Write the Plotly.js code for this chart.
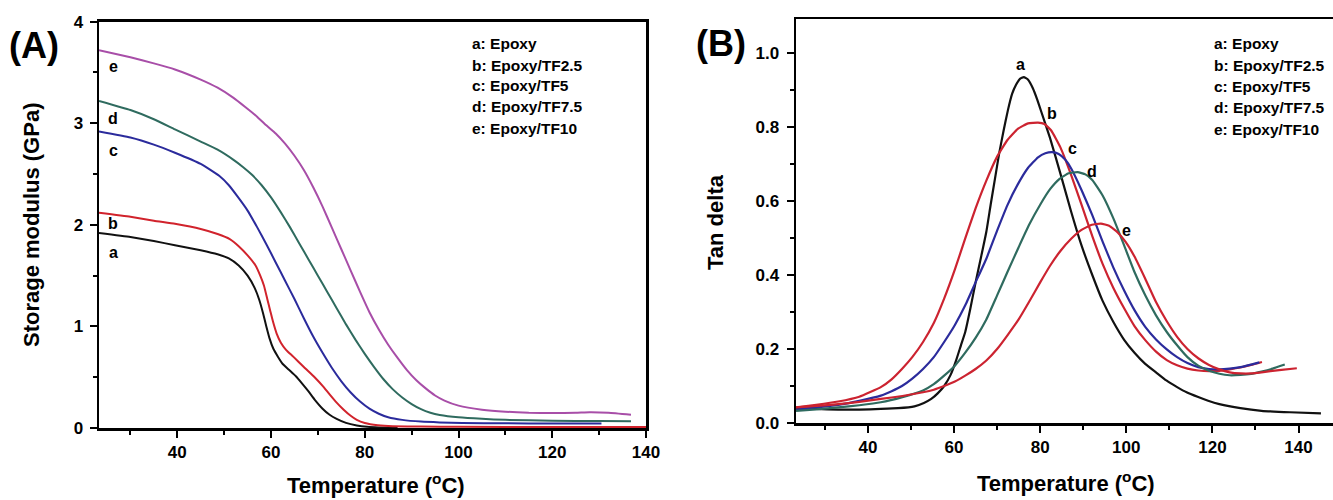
<!DOCTYPE html>
<html>
<head>
<meta charset="utf-8">
<script src="https://cdn.plot.ly/plotly-3.0.1.min.js"></script>
<style>
html,body{margin:0;padding:0;background:#fff}
#chart{width:1333px;height:500px}
#chart g.xtick text, #chart g.ytick text, #chart g.x2tick text, #chart g.y2tick text {font-weight:700 !important;}
</style>
</head>
<body>
<div id="chart"></div>
<script>
// ---------- Panel A: Storage modulus (GPa) vs Temperature (°C) ----------
const seriesNames = ["a: Epoxy", "b: Epoxy/TF2.5", "c: Epoxy/TF5", "d: Epoxy/TF7.5", "e: Epoxy/TF10"];
const curveLetters = ["a", "b", "c", "d", "e"];

// tick labels
const xTicks = [40, 60, 80, 100, 120, 140];
const xTickLabels = ["40", "60", "80", "100", "120", "140"];
const yTicksA = [0, 1, 2, 3, 4];
const yTickLabelsA = ["0", "1", "2", "3", "4"];
const yTicksB = [0, 0.2, 0.4, 0.6, 0.8, 1.0];
const yTickLabelsB = ["0.0", "0.2", "0.4", "0.6", "0.8", "1.0"];

const tA_a = [23.3, 30, 35, 39.5, 45, 48.6, 51, 53.1, 55, 56.5, 57.5, 58.3, 59, 59.7, 60.5, 61.5, 62.5, 63.9, 65.3, 66.6, 68, 69.3, 71, 72.5, 74, 76, 78.3, 80.5, 83, 87];
const sA_a = [1.92, 1.88, 1.84, 1.80, 1.75, 1.71, 1.67, 1.60, 1.50, 1.38, 1.26, 1.13, 1.00, 0.88, 0.78, 0.70, 0.63, 0.57, 0.51, 0.44, 0.36, 0.28, 0.19, 0.13, 0.09, 0.05, 0.025, 0.012, 0.006, 0.003];

const tA_b = [23.3, 30, 35, 39.5, 45, 48.6, 51.2, 53.1, 55, 56.7, 57.7, 58.5, 59.2, 59.8, 60.4, 61.2, 62.1, 63.2, 64.8, 67, 69.3, 71.1, 72.5, 73.8, 75.5, 77, 78.3, 80, 82.8, 86, 92, 100, 120, 140];
const sA_b = [2.12, 2.08, 2.04, 2.01, 1.96, 1.91, 1.86, 1.79, 1.70, 1.60, 1.50, 1.40, 1.27, 1.16, 1.05, 0.93, 0.84, 0.77, 0.70, 0.60, 0.50, 0.41, 0.33, 0.26, 0.18, 0.12, 0.08, 0.05, 0.028, 0.018, 0.014, 0.012, 0.01, 0.01];

const tA_c = [23.3, 30, 35, 39.5, 45, 49, 51, 53, 55, 57, 59, 61, 63, 65, 67, 69, 71, 73, 75, 77, 79, 81, 83, 85, 88, 92, 96, 100.8, 110, 120, 130.5];
const sA_c = [2.92, 2.86, 2.79, 2.71, 2.60, 2.48, 2.39, 2.27, 2.14, 1.98, 1.81, 1.63, 1.45, 1.27, 1.08, 0.90, 0.74, 0.59, 0.46, 0.35, 0.26, 0.19, 0.14, 0.105, 0.08, 0.063, 0.055, 0.05, 0.046, 0.045, 0.045];

const tA_d = [23.3, 30, 35, 39.5, 45, 48.6, 52, 54, 56, 58, 60, 62, 64, 66, 68, 70, 72, 74, 76, 78, 80, 82, 84, 86, 88, 90, 92, 94, 96, 100, 105, 110, 120, 130, 136.8];
const sA_d = [3.22, 3.13, 3.04, 2.94, 2.82, 2.74, 2.64, 2.57, 2.49, 2.39, 2.27, 2.13, 1.98, 1.82, 1.66, 1.50, 1.34, 1.18, 1.02, 0.87, 0.73, 0.60, 0.48, 0.38, 0.30, 0.235, 0.185, 0.15, 0.128, 0.105, 0.09, 0.08, 0.072, 0.068, 0.066];

const tA_e = [23.3, 30, 35, 39.5, 45, 48.6, 52, 54.5, 56.9, 59, 61, 63, 65, 67, 69, 71, 73, 75, 77, 79, 81, 83, 85, 87, 89, 91, 93, 95, 97, 100, 105, 110, 115, 120, 125, 128, 132, 136.8];
const sA_e = [3.72, 3.65, 3.59, 3.53, 3.43, 3.35, 3.25, 3.16, 3.07, 2.98, 2.90, 2.80, 2.68, 2.54, 2.37, 2.18, 1.97, 1.76, 1.55, 1.34, 1.14, 0.97, 0.82, 0.69, 0.57, 0.47, 0.39, 0.32, 0.27, 0.22, 0.18, 0.16, 0.15, 0.147, 0.15, 0.155, 0.15, 0.13];

// ---------- Panel B: Tan delta vs Temperature (°C) ----------
const tB_a = [23.3, 28, 33.1, 38, 43, 47, 50.8, 53, 54.7, 56.2, 57.7, 59.2, 60.5, 61.6, 62.6, 63.8, 65, 66.3, 67.5, 68.5, 69.5, 70.5, 71.5, 72.5, 73.5, 74.4, 75.3, 76.2, 77.2, 78.3, 79.3, 80.3, 82.3, 84.8, 87.2, 89.6, 92.1, 94.5, 97, 99.5, 101.9, 104.4, 106.9, 109.3, 111.8, 114, 116.7, 119, 121.6, 126.5, 131.4, 138, 145.2];
const tanB_a = [0.040, 0.038, 0.036, 0.036, 0.038, 0.040, 0.045, 0.054, 0.065, 0.08, 0.10, 0.13, 0.17, 0.21, 0.246, 0.31, 0.38, 0.45, 0.517, 0.59, 0.66, 0.73, 0.79, 0.845, 0.89, 0.914, 0.93, 0.935, 0.928, 0.905, 0.875, 0.84, 0.77, 0.67, 0.571, 0.48, 0.40, 0.33, 0.273, 0.225, 0.19, 0.16, 0.137, 0.115, 0.097, 0.083, 0.07, 0.06, 0.051, 0.04, 0.033, 0.029, 0.026];

const tB_b = [23.3, 28, 33.1, 38, 43, 45.5, 47.9, 50.3, 52.8, 55.3, 57.7, 60.2, 62.6, 65, 67.5, 70, 72.4, 74.8, 77.2, 79.5, 81, 82.6, 84.7, 87.2, 89.6, 92.1, 94.5, 97, 99.5, 101.9, 104.4, 106.9, 109.4, 111.8, 114.2, 116.7, 119.2, 121.6, 124, 126.5, 129, 131.5];
const tanB_b = [0.042, 0.049, 0.058, 0.071, 0.097, 0.118, 0.146, 0.178, 0.219, 0.27, 0.336, 0.415, 0.499, 0.58, 0.655, 0.72, 0.765, 0.795, 0.81, 0.812, 0.808, 0.79, 0.745, 0.67, 0.59, 0.505, 0.43, 0.365, 0.31, 0.262, 0.224, 0.193, 0.17, 0.156, 0.147, 0.142, 0.14, 0.141, 0.145, 0.15, 0.157, 0.165];

const tB_c = [23.3, 28, 33.1, 38, 43, 45.5, 47.9, 50.3, 52.8, 55.3, 57.7, 60.2, 62.6, 65, 67.5, 70, 72.4, 74.8, 77.2, 79.5, 81.2, 82.8, 84.3, 85.8, 87.2, 89.6, 92.1, 94.5, 97, 99.5, 101.9, 104.4, 106.9, 109.4, 111.8, 114.2, 116.7, 119.2, 121.6, 124, 126.5, 128.7, 130.9];
const tanB_c = [0.036, 0.042, 0.049, 0.06, 0.074, 0.086, 0.10, 0.12, 0.146, 0.178, 0.219, 0.265, 0.318, 0.38, 0.444, 0.52, 0.589, 0.645, 0.69, 0.718, 0.729, 0.732, 0.727, 0.712, 0.688, 0.63, 0.562, 0.49, 0.42, 0.358, 0.305, 0.26, 0.226, 0.199, 0.178, 0.162, 0.151, 0.146, 0.145, 0.147, 0.151, 0.157, 0.164];

const tB_d = [23.3, 28, 33.1, 38, 43, 48, 52.8, 55.3, 57.7, 60.2, 62.6, 65, 67.5, 70, 72.4, 75, 77.4, 80, 82.3, 84.5, 86.6, 88.7, 90.5, 92.1, 94.5, 97, 99.5, 101.9, 104.4, 106.9, 109.4, 111.8, 114.2, 116.7, 119.2, 121.6, 124, 126.5, 129, 131.4, 134, 136.8];
const tanB_d = [0.033, 0.037, 0.042, 0.048, 0.056, 0.07, 0.088, 0.105, 0.128, 0.155, 0.19, 0.23, 0.28, 0.345, 0.408, 0.475, 0.535, 0.59, 0.632, 0.66, 0.675, 0.678, 0.672, 0.657, 0.615, 0.553, 0.48, 0.408, 0.345, 0.291, 0.246, 0.21, 0.178, 0.155, 0.141, 0.133, 0.129, 0.13, 0.133, 0.139, 0.147, 0.158];

const tB_e = [23.3, 28, 33.1, 38, 43, 48, 52.8, 55.3, 57.7, 60.2, 62.6, 65, 67.5, 70, 72.4, 75, 77.4, 80, 82.3, 84.7, 87.2, 89.6, 92, 94.1, 96, 98, 99.8, 101.9, 104.4, 106.9, 109.4, 111.8, 114.2, 116.7, 119.2, 121.6, 124, 126.5, 129, 131.4, 135.5, 139.6];
const tanB_e = [0.042, 0.046, 0.051, 0.057, 0.065, 0.073, 0.083, 0.09, 0.10, 0.112, 0.128, 0.146, 0.169, 0.2, 0.237, 0.28, 0.327, 0.38, 0.425, 0.465, 0.498, 0.522, 0.536, 0.539, 0.533, 0.515, 0.49, 0.45, 0.39, 0.327, 0.275, 0.233, 0.2, 0.175, 0.157, 0.145, 0.137, 0.134, 0.134, 0.137, 0.143, 0.148];

// Curve-label anchor positions (data units) for letter tags
const labelA_x = [26.3, 26.3, 26.3, 26.3, 26.3];
const labelA_y = [1.73, 2.01, 2.73, 3.05, 3.56];
const labelB_x = [75.4, 82.8, 87.4, 92.1, 100.0];
const labelB_y = [0.968, 0.837, 0.741, 0.679, 0.519];

// ---------- styling ----------
const colA = ["#111111", "#d1232c", "#2b2b9c", "#2f6b5f", "#a84ea8"];
const colB = ["#111111", "#cc2330", "#2b2b9c", "#2f6b5f", "#cc2330"];
const FONT = "Liberation Sans, Arial, sans-serif";
const bold = arr => arr.map(s => "<b>" + s + "</b>");

const dataA = [[tA_a, sA_a], [tA_b, sA_b], [tA_c, sA_c], [tA_d, sA_d], [tA_e, sA_e]];
const dataB = [[tB_a, tanB_a], [tB_b, tanB_b], [tB_c, tanB_c], [tB_d, tanB_d], [tB_e, tanB_e]];

const traces = [];
dataA.forEach((d, i) => traces.push({
  x: d[0], y: d[1], type: "scatter", mode: "lines", name: seriesNames[i],
  line: {color: colA[i], width: 2, shape: "spline", smoothing: 0.4},
  xaxis: "x", yaxis: "y", showlegend: false, hoverinfo: "skip"
}));
dataB.forEach((d, i) => traces.push({
  x: d[0], y: d[1], type: "scatter", mode: "lines", name: seriesNames[i],
  line: {color: colB[i], width: 2.2, shape: "spline", smoothing: 0.4},
  xaxis: "x2", yaxis: "y2", showlegend: false, hoverinfo: "skip"
}));

const W = 1333, H = 500;
function axisBase(extra) {
  return Object.assign({
    showgrid: false, zeroline: false, showline: true, linecolor: "#000", linewidth: 2.5,
    ticks: "outside", ticklen: 7, tickwidth: 2, tickcolor: "#000",
    tickfont: {family: FONT, size: 17, color: "#000", weight: "bold"},
    tickmode: "array",
    mirror: true, fixedrange: true
  }, extra);
}

const annotations = [];
function txt(text, x, y, size, opts) {
  annotations.push(Object.assign({
    text: "<b>" + text + "</b>", x: x, y: y, xref: "paper", yref: "paper",
    showarrow: false, font: {family: FONT, size: size, color: "#000"},
    xanchor: "center", yanchor: "middle"
  }, opts || {}));
}
// panel tags
txt("(A)", 34 / W, 1 - 46 / H, 36);
txt("(B)", 721 / W, 1 - 44 / H, 36);
// axis titles
txt("Temperature (<sup>o</sup>C)", 376 / W, 1 - 484 / H, 22);
txt("Temperature (<sup>o</sup>C)", 1066 / W, 1 - 482 / H, 22);
txt("Storage modulus (GPa)", 32 / W, 1 - 225 / H, 22, {textangle: -90});
txt("Tan delta", 716 / W, 1 - 222 / H, 22, {textangle: -90});
// legend texts
seriesNames.forEach((s, i) => {
  txt(s, 470 / W, 1 - (44 + i * 21) / H, 15.5, {xanchor: "left"});
  txt(s, 1212 / W, 1 - (44 + i * 21.3) / H, 15.5, {xanchor: "left"});
});
// curve letters
curveLetters.forEach((c, i) => {
  annotations.push({text: "<b>" + c + "</b>", x: labelA_x[i], y: labelA_y[i], xref: "x", yref: "y",
    showarrow: false, font: {family: FONT, size: 16, color: "#000"}, xanchor: "center", yanchor: "middle"});
  annotations.push({text: "<b>" + c + "</b>", x: labelB_x[i], y: labelB_y[i], xref: "x2", yref: "y2",
    showarrow: false, font: {family: FONT, size: 16, color: "#000"}, xanchor: "center", yanchor: "middle"});
});

const layout = {
  width: W, height: H, margin: {l: 0, r: 0, t: 0, b: 0},
  paper_bgcolor: "#fff", plot_bgcolor: "#fff", showlegend: false,
  xaxis: axisBase({domain: [99 / W, 646 / W], range: [23.3, 140], tickvals: xTicks, ticktext: bold(xTickLabels), anchor: "y",
    minor: {ticks: "outside", ticklen: 4, tickwidth: 2, tickcolor: "#000", dtick: 10, tick0: 0}}),
  yaxis: axisBase({domain: [1 - 428 / H, 1 - 21.7 / H], range: [0, 4], tickvals: yTicksA, ticktext: bold(yTickLabelsA), anchor: "x",
    ticklabelstandoff: 3,
    minor: {ticks: "outside", ticklen: 4, tickwidth: 2, tickcolor: "#000", dtick: 0.5, tick0: 0}}),
  xaxis2: axisBase({domain: [796 / W, 1], range: [23.3, 148], tickvals: xTicks, ticktext: bold(xTickLabels), anchor: "y2",
    minor: {ticks: "outside", ticklen: 4, tickwidth: 2, tickcolor: "#000", dtick: 10, tick0: 0}}),
  yaxis2: axisBase({domain: [1 - 423 / H, 1 - 19 / H], range: [0, 1.092], tickvals: yTicksB, ticktext: bold(yTickLabelsB), anchor: "x2",
    ticklabelstandoff: 4, mirror: false,
    minor: {ticks: "outside", ticklen: 4, tickwidth: 2, tickcolor: "#000", dtick: 0.1, tick0: 0}}),
  annotations: annotations
};

Plotly.newPlot("chart", traces, layout, {displayModeBar: false, staticPlot: true});
</script>
</body>
</html>
